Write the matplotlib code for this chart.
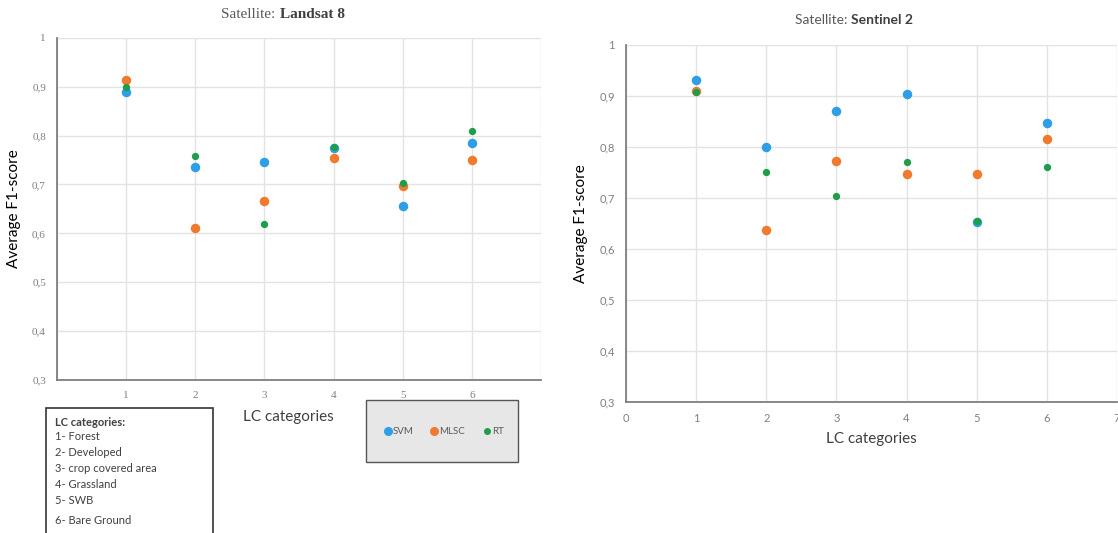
import matplotlib
matplotlib.use("Agg")
import matplotlib.pyplot as plt
from matplotlib.patches import Rectangle
from matplotlib.ticker import FuncFormatter

# ── data ────────────────────────────────────────────────────────────────
categories = [1, 2, 3, 4, 5, 6]

landsat_svm = [0.890, 0.735, 0.745, 0.775, 0.657, 0.785]
landsat_mlsc = [0.914, 0.612, 0.666, 0.754, 0.697, 0.750]
landsat_rt = [0.900, 0.758, 0.620, 0.776, 0.703, 0.810]

sentinel_svm = [0.930, 0.800, 0.870, 0.903, 0.652, 0.846]
sentinel_mlsc = [0.910, 0.636, 0.773, 0.746, 0.746, 0.815]
sentinel_rt = [0.907, 0.750, 0.703, 0.770, 0.655, 0.760]

lc_names = ["1- Forest", "2- Developed", "3- crop covered area",
            "4- Grassland", "5- SWB", "6- Bare Ground"]
methods = ["SVM", "MLSC", "RT"]

C_SVM = "#2e9fe6"
C_MLSC = "#f07a2e"
C_RT = "#1f9e4a"
SANS = ["Lato", "DejaVu Sans"]
SERIF = ["Liberation Serif", "DejaVu Serif"]
comma = FuncFormatter(lambda v, _: ("%g" % round(v, 1)).replace(".", ","))

fig = plt.figure(figsize=(11.18, 5.33), dpi=100)


def style_axes(ax, tick_family):
    ax.set_ylim(0.3, 1.0)
    ax.set_xlim(0, 7)
    ax.set_yticks([0.3, 0.4, 0.5, 0.6, 0.7, 0.8, 0.9, 1.0])
    ax.yaxis.set_major_formatter(comma)
    ax.grid(True, color="#e3e3e3", lw=1.0)
    ax.set_axisbelow(True)
    for s in ("top", "right"):
        ax.spines[s].set_visible(False)
    for s in ("left", "bottom"):
        ax.spines[s].set_color("#7f7f7f")
        ax.spines[s].set_linewidth(1.3)
    ax.tick_params(length=0, labelsize=8, colors="#7f7f7f", pad=8)
    for lab in ax.get_xticklabels() + ax.get_yticklabels():
        lab.set_family(tick_family)


def scatter(ax, svm, mlsc, rt):
    ax.scatter(categories, svm, s=34, color=C_SVM, zorder=3, label="SVM")
    ax.scatter(categories, mlsc, s=34, color=C_MLSC, zorder=3, label="MLSC")
    ax.scatter(categories, rt, s=18, color=C_RT, zorder=4, label="RT")


# ── left: Landsat 8 ─────────────────────────────────────────────────────
ax1 = fig.add_axes([0.051, 0.287, 0.433, 0.642])
scatter(ax1, landsat_svm, landsat_mlsc, landsat_rt)
ax1.set_xticks(range(0, 8))
style_axes(ax1, SERIF)
ax1.set_xticklabels([""] + [str(c) for c in categories] + [""])
ax1.set_ylabel("Average F1-score", fontsize=11, family=SANS, labelpad=8)
fig.text(0.25, 0.972, "Satellite: ", ha="right", va="center",
         fontsize=11, color="#595959", family=SERIF)
fig.text(0.25, 0.972, "Landsat 8", ha="left", va="center",
         fontsize=11, color="#404040", family=SERIF, weight="bold")
fig.text(0.258, 0.218, "LC categories", ha="center", va="center",
         fontsize=11, color="#404040", family=SANS)

# legend box for methods
fig.patches.append(Rectangle((366 / 1118, 1 - 462 / 533), 152 / 1118, 62 / 533,
                             transform=fig.transFigure, facecolor="#e7e7e7",
                             edgecolor="#555555", lw=1.0))
leg_x = [388, 434, 487]
leg_c = [C_SVM, C_MLSC, C_RT]
leg_s = [5.5, 5.5, 4]
for xp, c, ms, name in zip(leg_x, leg_c, leg_s, methods):
    fig.lines.append(plt.Line2D([xp / 1118], [1 - 431 / 533], marker="o",
                                ms=ms, color=c, lw=0,
                                transform=fig.transFigure))
    fig.text((xp + 5) / 1118, 1 - 431 / 533, name, ha="left", va="center",
             fontsize=7, color="#595959", family=SANS)

# LC category key box
fig.patches.append(Rectangle((46 / 1118, -0.02), 167 / 1118, 1 - 408 / 533 + 0.02,
                             transform=fig.transFigure, facecolor="white",
                             edgecolor="#333333", lw=1.2))
fig.text(55 / 1118, 1 - 422 / 533, "LC categories:", ha="left", va="center",
         fontsize=8, color="#404040", family=SANS, weight="bold")
line_y = [437, 453, 469, 485, 501, 520]
for yp, name in zip(line_y, lc_names):
    fig.text(55 / 1118, 1 - yp / 533, name, ha="left", va="center",
             fontsize=8, color="#404040", family=SANS)

# ── right: Sentinel 2 ───────────────────────────────────────────────────
ax2 = fig.add_axes([0.56, 0.246, 0.439, 0.670])
scatter(ax2, sentinel_svm, sentinel_mlsc, sentinel_rt)
ax2.set_xticks(range(0, 8))
style_axes(ax2, SANS)
ax2.set_ylabel("Average F1-score", fontsize=11, family=SANS, labelpad=8)
ax2.set_xlabel("LC categories", fontsize=11, family=SANS, color="#404040",
               labelpad=6)
fig.text(0.761, 0.962, "Satellite: ", ha="right", va="center",
         fontsize=10, color="#595959", family=SANS)
fig.text(0.761, 0.962, "Sentinel 2", ha="left", va="center",
         fontsize=10, color="#404040", family=SANS, weight="bold")

fig.savefig("out.png", dpi=100)
